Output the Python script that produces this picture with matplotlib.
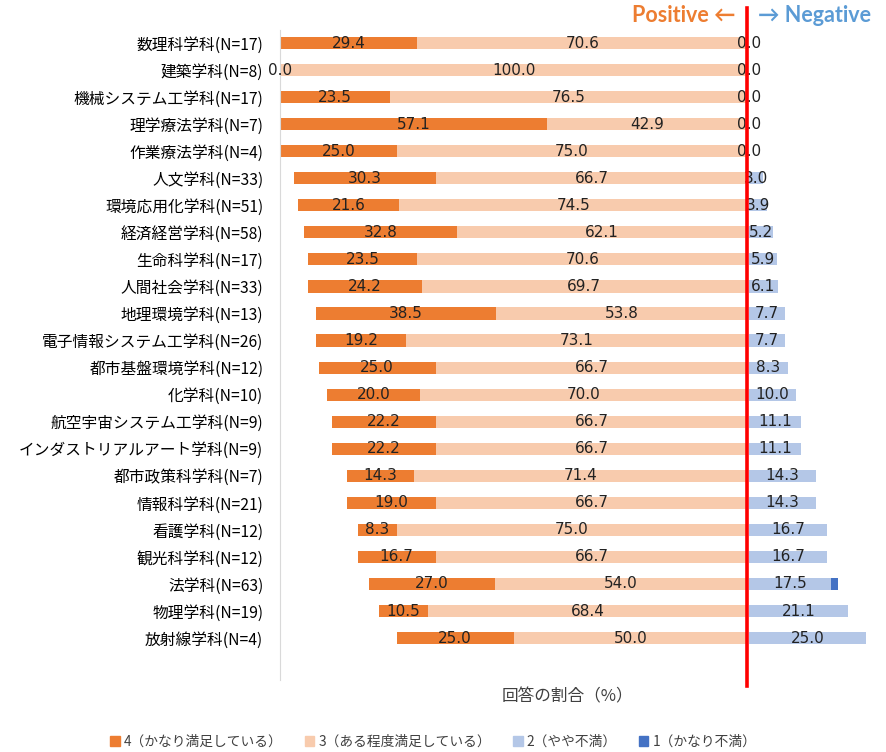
import matplotlib
matplotlib.use("Agg")
import matplotlib.pyplot as plt
import numpy as np
from matplotlib.patches import Patch

plt.rcParams['font.family'] = ['Noto Sans CJK JP', 'DejaVu Sans']

categories = ['数理科学科(N=17)', '建築学科(N=8)', '機械システム工学科(N=17)', '理学療法学科(N=7)',
              '作業療法学科(N=4)', '人文学科(N=33)', '環境応用化学科(N=51)', '経済経営学科(N=58)',
              '生命科学科(N=17)', '人間社会学科(N=33)', '地理環境学科(N=13)', '電子情報システム工学科(N=26)',
              '都市基盤環境学科(N=12)', '化学科(N=10)', '航空宇宙システム工学科(N=9)',
              'インダストリアルアート学科(N=9)', '都市政策科学科(N=7)', '情報科学科(N=21)',
              '看護学科(N=12)', '観光科学科(N=12)', '法学科(N=63)', '物理学科(N=19)', '放射線学科(N=4)']
s4 = [29.4, 0.0, 23.5, 57.1, 25.0, 30.3, 21.6, 32.8, 23.5, 24.2, 38.5, 19.2,
      25.0, 20.0, 22.2, 22.2, 14.3, 19.0, 8.3, 16.7, 27.0, 10.5, 25.0]
s3 = [70.6, 100.0, 76.5, 42.9, 75.0, 66.7, 74.5, 62.1, 70.6, 69.7, 53.8, 73.1,
      66.7, 70.0, 66.7, 66.7, 71.4, 66.7, 75.0, 66.7, 54.0, 68.4, 50.0]
s2 = [0.0, 0.0, 0.0, 0.0, 0.0, 3.0, 3.9, 5.2, 5.9, 6.1, 7.7, 7.7,
      8.3, 10.0, 11.1, 11.1, 14.3, 14.3, 16.7, 16.7, 17.5, 21.1, 25.0]
s1 = [0.0] * 20 + [1.6, 0.0, 0.0]

legend_labels = ['4（かなり満足している）', '3（ある程度満足している）', '2（やや不満）', '1（かなり不満）']
c4, c3, c2, c1 = '#ED7D31', '#F8CBAD', '#B4C7E7', '#4472C4'

s4 = np.array(s4); s3 = np.array(s3); s2 = np.array(s2); s1 = np.array(s1)
y = np.arange(len(categories))

fig = plt.figure(figsize=(8.86, 7.52), dpi=100)
ax = fig.add_axes([280/886, 1-680/752, (878-280)/886, (680-29.5)/752])

h = 0.45
ax.barh(y, s4, left=-(s4+s3), height=h, color=c4)
ax.barh(y, s3, left=-s3, height=h, color=c3)
ax.barh(y, s2, left=0.4, height=h, color=c2)
ax.barh(y, s1, left=0.4+s2, height=h, color=c1)

fs = 11
for i in y:
    ax.text(-(s4[i]+s3[i]) + s4[i]/2, i, f'{s4[i]:.1f}', ha='center', va='center', fontsize=fs, family='DejaVu Sans', color='#222222')
    ax.text(-s3[i]/2, i, f'{s3[i]:.1f}', ha='center', va='center', fontsize=fs, family='DejaVu Sans', color='#222222')
    ax.text(0.4 + s2[i]/2, i, f'{s2[i]:.1f}', ha='center', va='center', fontsize=fs, family='DejaVu Sans', color='#222222')

ax.axvline(0, ymin=-0.009, ymax=1.033, color='#FF0000', lw=2.6, clip_on=False, zorder=5)

ax.set_xlim(-100, 28)
ax.set_ylim(23.55, -0.5)
ax.set_yticks(y)
ax.set_yticklabels(categories, fontsize=11.3)
ax.tick_params(axis='y', length=0, pad=12)
ax.set_xticks([])
for sp in ['top', 'right', 'bottom']:
    ax.spines[sp].set_visible(False)
ax.spines['left'].set_color('#D9D9D9')

fig.text(567/886, 1-697/752, '回答の割合（%）', ha='center', va='center', fontsize=12, color='#404040')
fig.text(735/886, 1-15/752, 'Positive ←', ha='right', va='center', fontsize=15.5, fontweight='bold',
         color=c4, family=['Lato', 'DejaVu Sans'])
fig.text(758/886, 1-15/752, '→ Negative', ha='left', va='center', fontsize=15.5, fontweight='bold',
         color='#5B9BD5', family=['Lato', 'DejaVu Sans'])

handles = [Patch(color=c) for c in (c4, c3, c2, c1)]
fig.legend(handles, legend_labels, loc='center', bbox_to_anchor=(0.489, 1-742/752), ncol=4,
           frameon=False, fontsize=9.9, handlelength=0.7, handleheight=0.7, handletextpad=0.3,
           columnspacing=1.6, labelcolor='#404040')

fig.savefig('out.png', dpi=100)
